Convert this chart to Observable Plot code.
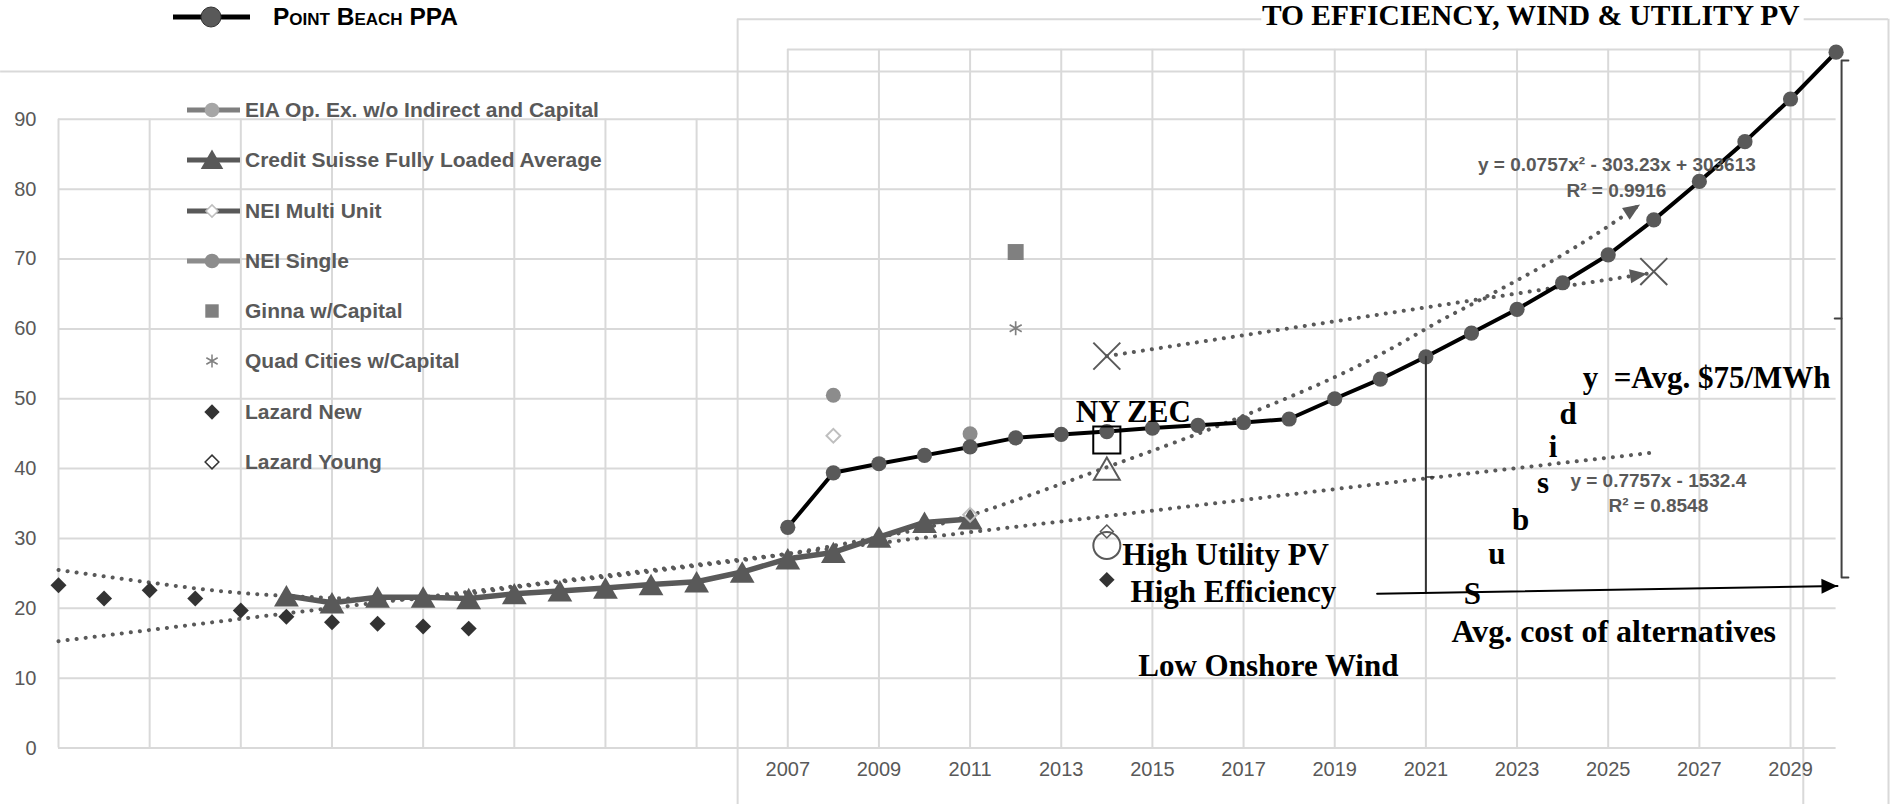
<!DOCTYPE html>
<html><head><meta charset="utf-8">
<script src="https://cdn.jsdelivr.net/npm/d3@7"></script>
<script src="https://cdn.jsdelivr.net/npm/@observablehq/plot@0.6"></script>
<style>
body{margin:0;background:#fff;}
#wrap{position:relative;width:1900px;height:804px;overflow:hidden;background:#fff;}
#legend{position:absolute;left:0;top:0;width:0;height:0;}
.li{position:absolute;display:flex;align-items:center;height:30px;font-family:"Liberation Sans",Arial,sans-serif;font-weight:bold;font-size:21px;color:#595959;white-space:nowrap;}
.li svg{flex:none;}
</style></head><body><div id="wrap"><div id="legend"></div></div><script>
// ---------------- data ----------------
const ppaYears  = [2007,2008,2009,2010,2011,2012,2013,2014,2015,2016,2017,2018,2019,2020,2021,2022,2023,2024,2025,2026,2027,2028,2029,2030];
const ppaValues = [31.6,39.4,40.7,41.9,43.1,44.4,44.9,45.3,45.8,46.2,46.6,47.1,50.0,52.8,56.0,59.4,62.8,66.6,70.6,75.6,81.1,86.8,92.9,99.6];

const csYears  = [1996,1997,1998,1999,2000,2001,2002,2003,2004,2005,2006,2007,2008,2009,2010,2011];
const csValues = [21.8,20.8,21.6,21.6,21.4,22.1,22.5,22.9,23.4,23.8,25.2,27.1,28.0,30.2,32.3,32.8];

const lazardNewYears  = [1991,1992,1993,1994,1995,1996,1997,1998,1999,2000];
const lazardNewValues = [23.3,21.4,22.6,21.4,19.7,18.8,18.0,17.8,17.4,17.1];

const neiSingleYears  = [2008, 2011];
const neiSingleValues = [50.5, 45.0];
const neiMultiYears   = [2008, 2011];
const neiMultiValues  = [44.7, 33.4];
const ginnaYears  = [2012];
const ginnaValues = [71.0];
const quadYears   = [2012];
const quadValues  = [60.1];
const lazardYoungYears  = [2014];
const lazardYoungValues = [31.0];

// alternatives shown at 2014
const zecYear = [2014], zecValue = [44.1];          // NY ZEC (open square)
const windYear = [2014], windValue = [40.0];        // open triangle
const pvYear = [2014], pvValue = [29.0];            // open circle
const effYear = [2014], effValue = [24.1];          // filled diamond
const xYears = [2014, 2026], xValues = [56.1, 68.2]; // big X markers

// dotted trend lines
const polyTrendYears  = [1991,1993,1995,1997,1999,2001,2003,2005,2007,2009,2011,2014,2016,2019,2021,2022,2024,2025.7];
const polyTrendValues = [25.5,23.7,22.2,21.5,21.4,23.0,24.5,26.1,27.8,30.2,33.3,40.2,45.0,53.1,60.0,63.5,70.6,77.8];
const linTrendYears   = [1991,1995,2011,2021,2026];
const linTrendValues  = [15.3,18.5,30.9,38.6,42.3];
const xTrendYears     = [2014, 2025.85];
const xTrendValues    = [56.1, 67.9];

// black annotation (subsidy / average cost)
const subsidyYears  = [2021, 2021];
const subsidyValues = [56.0, 22.2];
const avgArrowYears  = [2019.93, 2030.03];
const avgArrowValues = [22.1, 23.2];
const braceYears  = [2030.27, 2030.12, 2030.12, 2030.27];
const braceValues = [98.4, 98.4, 24.4, 24.4];
const braceMidYears = [2029.97, 2030.12];
const braceMidValues = [61.5, 61.5];

// ticks
const valueTicks = [0,10,20,30,40,50,60,70,80,90];
const yearTicks  = [2007,2009,2011,2013,2015,2017,2019,2021,2023,2025,2027,2029];
const leftGridYears  = [1991,1993,1995,1997,1999,2001,2003,2005,2007,2009,2011,2013,2015,2017,2019,2021,2023,2025,2027,2029];
const rightGridYears = [2007,2009,2011,2013,2015,2017,2019,2021,2023,2025,2027,2029];

// ---------------- layout ----------------
const W = 1900, H = 804;
const mL = 58, mR = 64.4, mT = 48.9, mB = 56.4;
const xDom = [1991, 2030], yDom = [0, 100];
const kx = (W - mL - mR) / (xDom[1] - xDom[0]);
const ky = (H - mT - mB) / (yDom[1] - yDom[0]);
const grid = "#d9d9d9";
const sans = "'Liberation Sans', Arial, sans-serif";
const serif = "'Liberation Serif', 'Times New Roman', serif";

const pts = (xs, vs) => xs.map((x, i) => ({x, v: vs[i]}));
const ppa = pts(ppaYears, ppaValues);
const cs = pts(csYears, csValues);
const polyTrend = pts(polyTrendYears, polyTrendValues);
const linTrend = pts(linTrendYears, linTrendValues);
const xTrend = pts(xTrendYears, xTrendValues);
const avgArrow = pts(avgArrowYears, avgArrowValues);

function angleOf(a, b) { return Math.atan2(-(b.v - a.v) * ky, (b.x - a.x) * kx) * 180 / Math.PI; }
function arrowHead(angleDeg, len, wid) {
  const a = angleDeg * Math.PI / 180, ux = Math.cos(a), uy = Math.sin(a);
  return {draw(ctx) {
    const bx = -len * ux, by = -len * uy, px = -uy * wid / 2, py = ux * wid / 2;
    ctx.moveTo(0, 0); ctx.lineTo(bx + px, by + py); ctx.lineTo(bx - px, by - py); ctx.closePath();
  }};
}
const last2 = arr => [arr[arr.length - 2], arr[arr.length - 1]];

const dotted = {stroke: "#595959", strokeWidth: 4, strokeDasharray: "0.1 9", strokeLinecap: "round"};
const g = {stroke: grid, strokeWidth: 2};

// frame lines of the pasted panels
const leftFrameTop = 96.84, leftFrameL = 1989.73, leftFrameR = 2029.28, bottomV = -8.2;
const boxL = 2005.9, boxR = 2031.15, boxTop = 104.3;

const title = "TO EFFICIENCY, WIND & UTILITY PV";

const plot = Plot.plot({
  width: W, height: H,
  marginLeft: mL, marginRight: mR, marginTop: mT, marginBottom: mB,
  x: {domain: xDom, axis: null},
  y: {domain: yDom, axis: null},
  style: {background: "white", overflow: "visible"},
  marks: [
    // grid
    Plot.ruleY(valueTicks, {y: d => d, x1: 1991, x2: 2030, ...g}),
    Plot.ruleY([100], {y: d => d, x1: 2007, x2: 2030.1, ...g}),
    Plot.ruleX(leftGridYears, {x: d => d, y1: 0, y2: 90, ...g}),
    Plot.ruleX(rightGridYears, {x: d => d, y1: 90, y2: 100, ...g}),
    // panel frames
    Plot.ruleY([leftFrameTop], {y: d => d, x1: leftFrameL, x2: leftFrameR, ...g}),
    Plot.ruleX([leftFrameR], {x: d => d, y1: bottomV, y2: leftFrameTop, ...g}),
    Plot.ruleX([boxL, boxR], {x: d => d, y1: bottomV, y2: boxTop, ...g}),
    Plot.ruleY([boxTop], {y: d => d, x1: boxL, x2: 2017.4, ...g}),
    Plot.ruleY([boxTop], {y: d => d, x1: 2029.3, x2: boxR, ...g}),

    // trend lines
    Plot.line(linTrend, {x: "x", y: "v", ...dotted}),
    Plot.line(polyTrend, {x: "x", y: "v", curve: "natural", ...dotted}),
    Plot.dot([polyTrend[polyTrend.length - 1]], {x: "x", y: "v", r: 1, symbol: arrowHead(angleOf(...last2(polyTrend)), 17, 14), fill: "#595959", stroke: "none"}),
    Plot.line(xTrend, {x: "x", y: "v", ...dotted}),
    Plot.dot([xTrend[1]], {x: "x", y: "v", r: 1, symbol: arrowHead(angleOf(...xTrend), 17, 14), fill: "#595959", stroke: "none"}),

    // Credit Suisse
    Plot.line(cs, {x: "x", y: "v", stroke: "#595959", strokeWidth: 5.5}),
    Plot.dot(cs, {x: "x", y: "v", symbol: "triangle", r: 9.2, dy: 3.5, fill: "#595959", stroke: "none"}),
    // NEI Multi Unit
    Plot.dot(pts(neiMultiYears, neiMultiValues), {x: "x", y: "v", symbol: "diamond2", r: 6.2, fill: "white", fillOpacity: 0, stroke: "#bfbfbf", strokeWidth: 2}),
    // Lazard New
    Plot.dot(pts(lazardNewYears, lazardNewValues), {x: "x", y: "v", symbol: "diamond2", r: 7.2, fill: "#333333", stroke: "none"}),
    // Ginna, Quad Cities
    Plot.dot(pts(ginnaYears, ginnaValues), {x: "x", y: "v", symbol: "square", r: 9, fill: "#808080", stroke: "none"}),
    Plot.dot(pts(quadYears, quadValues), {x: "x", y: "v", symbol: "asterisk", r: 6.6, fill: "none", stroke: "#808080", strokeWidth: 1.7}),
    // NEI Single
    Plot.dot(pts(neiSingleYears, neiSingleValues), {x: "x", y: "v", r: 7.5, fill: "#8c8c8c", stroke: "none"}),
    // Point Beach PPA
    Plot.line(ppa, {x: "x", y: "v", stroke: "black", strokeWidth: 4}),
    Plot.dot(ppa, {x: "x", y: "v", r: 7.6, fill: "#595959", stroke: "none"}),

    // alternatives at 2014
    Plot.dot(pts(zecYear, zecValue), {x: "x", y: "v", symbol: "square", r: 15.3, fill: "none", stroke: "black", strokeWidth: 2}),
    Plot.dot(pts(windYear, windValue), {x: "x", y: "v", symbol: "triangle", r: 9.6, dy: 3.7, fill: "none", stroke: "#595959", strokeWidth: 2}),
    Plot.dot(pts(pvYear, pvValue), {x: "x", y: "v", r: 13.5, fill: "none", stroke: "#595959", strokeWidth: 2}),
    Plot.dot(pts(lazardYoungYears, lazardYoungValues), {x: "x", y: "v", symbol: "diamond2", r: 5.8, fill: "none", stroke: "#595959", strokeWidth: 1.5}),
    Plot.dot(pts(effYear, effValue), {x: "x", y: "v", symbol: "diamond2", r: 7, fill: "#333333", stroke: "none"}),
    Plot.dot(pts(xYears, xValues), {x: "x", y: "v", symbol: "times", r: 12.3, fill: "none", stroke: "#595959", strokeWidth: 2}),

    // black annotation: subsidy, average cost arrow, brace
    Plot.line(pts(subsidyYears, subsidyValues), {x: "x", y: "v", stroke: "#333", strokeWidth: 2}),
    Plot.line(pts([2021, 2021.18], [38.8, 38.8]), {x: "x", y: "v", stroke: "#333", strokeWidth: 1.5}),
    Plot.line(avgArrow, {x: "x", y: "v", stroke: "black", strokeWidth: 2}),
    Plot.dot([avgArrow[1]], {x: "x", y: "v", r: 1, symbol: arrowHead(angleOf(...avgArrow), 16, 15), fill: "black", stroke: "none"}),
    Plot.line(pts(braceYears, braceValues), {x: "x", y: "v", stroke: "#404040", strokeWidth: 2, curve: "linear"}),
    Plot.line(pts(braceMidYears, braceMidValues), {x: "x", y: "v", stroke: "#404040", strokeWidth: 2}),

    // axis labels
    Plot.text(valueTicks, {y: d => d, text: d => String(d), frameAnchor: "left", dx: -22, textAnchor: "end", fill: "#595959", fontFamily: sans, fontSize: 20}),
    Plot.text(yearTicks, {x: d => d, text: d => String(d), frameAnchor: "bottom", dy: 28, fill: "#595959", fontFamily: sans, fontSize: 20}),

    // title
    Plot.text([title], {x: 2023.3, y: 104.85, text: d => d, fontFamily: serif, fontWeight: "bold", fontSize: 29.5, fill: "black"}),

    // annotation texts
    Plot.text(["NY ZEC"], {x: 2014.58, y: 48.1, text: d => d, fontFamily: serif, fontWeight: "bold", fontSize: 31, fill: "black"}),
    Plot.text(["High Utility PV"], {x: 2014.34, y: 27.6, text: d => d, textAnchor: "start", fontFamily: serif, fontWeight: "bold", fontSize: 31, fill: "black"}),
    Plot.text(["High Efficiency"], {x: 2014.52, y: 22.3, text: d => d, textAnchor: "start", fontFamily: serif, fontWeight: "bold", fontSize: 31, fill: "black"}),
    Plot.text(["Low Onshore Wind"], {x: 2014.69, y: 11.8, text: d => d, textAnchor: "start", fontFamily: serif, fontWeight: "bold", fontSize: 31, fill: "black"}),
    Plot.text(["Avg. cost of alternatives"], {x: 2021.56, y: 16.6, text: d => d, textAnchor: "start", fontFamily: serif, fontWeight: "bold", fontSize: 32, fill: "black"}),
    Plot.text(["y\u00a0 =Avg. $75/MWh"], {x: 2024.44, y: 53.0, text: d => d, textAnchor: "start", fontFamily: serif, fontWeight: "bold", fontSize: 31, fill: "black"}),
    Plot.text(pts([2022.02, 2022.56, 2023.08, 2023.57, 2023.79, 2024.12], [22.1, 27.7, 32.6, 38.0, 43.1, 47.85]).map((p, i) => ({...p, t: "Subsid"[i]})),
      {x: "x", y: "v", text: "t", fontFamily: serif, fontWeight: "bold", fontSize: 31, fill: "black"}),

    // trendline equations
    Plot.text(["y = 0.0757x\u00b2 - 303.23x + 303613"], {x: 2025.19, y: 83.4, text: d => d, fontFamily: sans, fontWeight: "bold", fontSize: 19, fill: "#595959"}),
    Plot.text(["R\u00b2 = 0.9916"], {x: 2025.18, y: 79.7, text: d => d, fontFamily: sans, fontWeight: "bold", fontSize: 19, fill: "#595959"}),
    Plot.text(["y = 0.7757x - 1532.4"], {x: 2026.1, y: 38.3, text: d => d, fontFamily: sans, fontWeight: "bold", fontSize: 19, fill: "#595959"}),
    Plot.text(["R\u00b2 = 0.8548"], {x: 2026.1, y: 34.7, text: d => d, fontFamily: sans, fontWeight: "bold", fontSize: 19, fill: "#595959"})
  ]
});
document.getElementById("wrap").insertBefore(plot, document.getElementById("legend"));

// ---------------- legend ----------------
const legendItems = [
  {label: "EIA Op. Ex. w/o Indirect and Capital", line: "#7f7f7f", sym: d3.symbolCircle, size: 170, fill: "#a6a6a6", stroke: "none"},
  {label: "Credit Suisse Fully Loaded Average", line: "#595959", sym: d3.symbolTriangle, size: 220, fill: "#595959", stroke: "none", dy: 2.5},
  {label: "NEI Multi Unit", line: "#595959", sym: d3.symbolDiamond2, size: 95, fill: "white", stroke: "#bfbfbf"},
  {label: "NEI Single", line: "#8c8c8c", sym: d3.symbolCircle, size: 170, fill: "#8c8c8c", stroke: "none"},
  {label: "Ginna w/Capital", sym: d3.symbolSquare, size: 180, fill: "#808080", stroke: "none"},
  {label: "Quad Cities w/Capital", sym: d3.symbolAsterisk, size: 120, fill: "none", stroke: "#808080"},
  {label: "Lazard New", sym: d3.symbolDiamond2, size: 150, fill: "#333333", stroke: "none"},
  {label: "Lazard Young", sym: d3.symbolDiamond2, size: 120, fill: "white", stroke: "#333333"}
];
const legend = document.getElementById("legend");
legendItems.forEach((it, i) => {
  const cy = 110 + i * 50.25;
  const div = document.createElement("div");
  div.className = "li";
  div.style.left = "180px";
  div.style.top = (cy - 15) + "px";
  const path = d3.symbol(it.sym, it.size)();
  const line = it.line ? `<line x1="7" x2="60" y1="15" y2="15" stroke="${it.line}" stroke-width="5"/>` : "";
  div.innerHTML = `<svg width="65" height="30">${line}<path d="${path}" transform="translate(32,${15 + (it.dy || 0)})" fill="${it.fill}" stroke="${it.stroke}" stroke-width="1.5"/></svg><span>${it.label}</span>`;
  legend.appendChild(div);
});
// Point Beach PPA legend
const pb = document.createElement("div");
pb.className = "li";
pb.style.left = "170px";
pb.style.top = "2px";
pb.style.color = "black";
pb.style.fontSize = "24.5px";
pb.style.fontVariant = "small-caps";
pb.innerHTML = `<svg width="103" height="30"><line x1="3" x2="80" y1="15" y2="15" stroke="black" stroke-width="5"/><circle cx="41" cy="15" r="10" fill="#595959" stroke="#333" stroke-width="1"/></svg><span>Point Beach PPA</span>`;
legend.appendChild(pb);
</script></body></html>
